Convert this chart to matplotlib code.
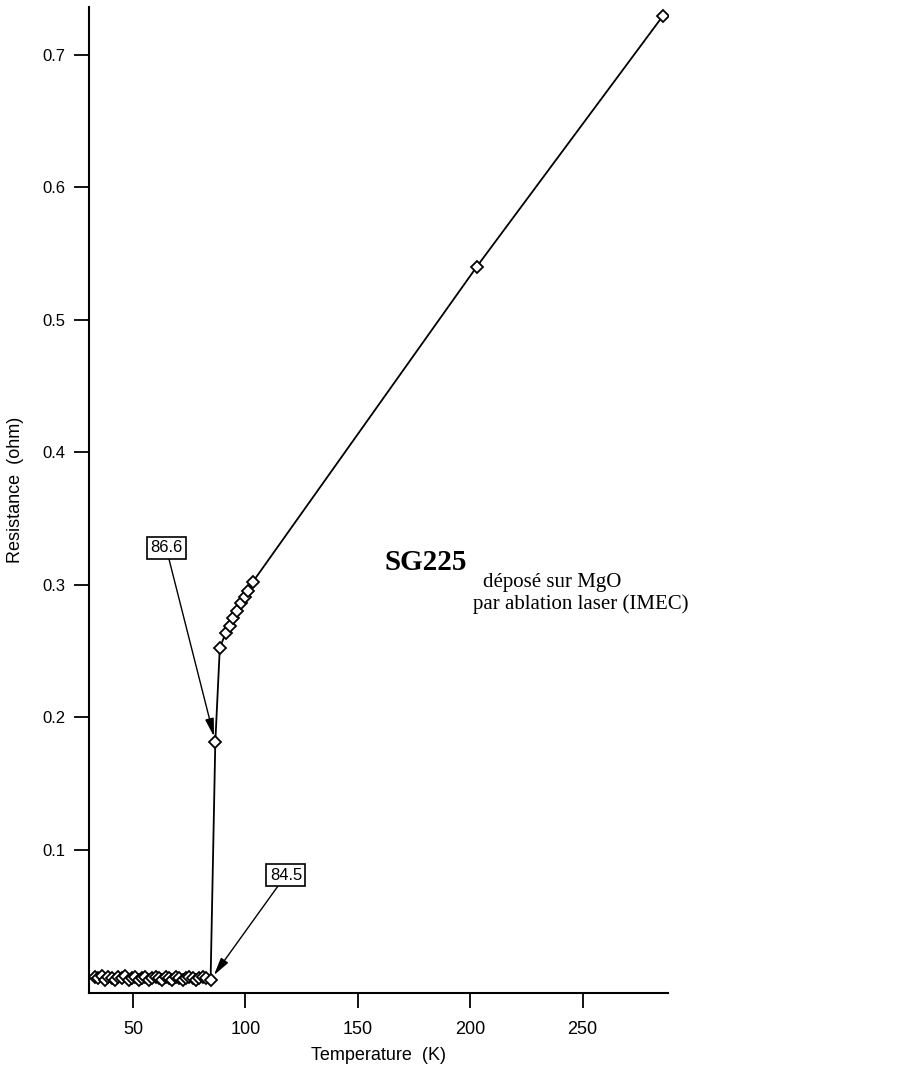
import matplotlib
matplotlib.use("Agg")
import matplotlib.pyplot as plt

# Resistance vs temperature of film SG225
temp_low = [33.0, 34.5, 36.0, 37.5, 39.0, 40.5, 42.0, 43.5, 45.0, 46.5,
            48.0, 49.5, 51.0, 52.5, 54.0, 55.5, 57.0, 58.5, 60.0, 61.5,
            63.0, 64.5, 66.0, 67.5, 69.0, 70.5, 72.0, 73.5, 75.0, 76.5,
            78.0, 79.5, 81.0, 82.5, 84.5]
res_low = [0.004, 0.003, 0.005, 0.002, 0.004, 0.003, 0.002, 0.004, 0.003, 0.005,
           0.002, 0.003, 0.004, 0.002, 0.003, 0.004, 0.002, 0.003, 0.004, 0.003,
           0.002, 0.004, 0.003, 0.002, 0.004, 0.003, 0.002, 0.003, 0.004, 0.003,
           0.002, 0.003, 0.004, 0.003, 0.002]
temp_high = [86.6, 88.6, 91.3, 93.1, 94.6, 96.2, 98.0, 99.6, 101.3, 103.2, 202.9, 285.6]
res_high = [0.1815, 0.2525, 0.264, 0.269, 0.275, 0.280, 0.286, 0.291, 0.295, 0.302, 0.540, 0.729]

temperature = temp_low + temp_high
resistance = res_low + res_high

x_ticks = [50, 100, 150, 200, 250]
y_ticks = [0.1, 0.2, 0.3, 0.4, 0.5, 0.6, 0.7]

tc_onset = 86.6
tc_zero = 84.5

W, H = 920, 1068
fig = plt.figure(figsize=(W / 100, H / 100), dpi=100)
ax = fig.add_axes([89 / W, 1 - 993 / H, (668 - 89) / W, (993 - 7) / H])

ax.plot(temperature, resistance, color="black", lw=1.3, marker="D",
        markersize=6.5, markerfacecolor="white", markeredgecolor="black",
        markeredgewidth=1.3)

ax.set_xlim(30.4, 288)
ax.set_ylim(-0.008, 0.736)

for side in ("top", "right"):
    ax.spines[side].set_visible(False)
for side in ("left", "bottom"):
    ax.spines[side].set_linewidth(1.5)

sans = ["Liberation Sans", "DejaVu Sans"]
ax.set_xticks(x_ticks)
ax.set_xticklabels([str(t) for t in x_ticks], family=sans, size=13)
ax.set_yticks(y_ticks)
ax.set_yticklabels([f"{t:.1f}" for t in y_ticks], family=sans, size=12)
ax.tick_params(direction="out", length=11, width=1.3)
ax.tick_params(axis="x", pad=9)
ax.tick_params(axis="y", pad=6)

ax.set_xlabel("Temperature  (K)", family=sans, size=13, labelpad=7)
ax.set_ylabel("Resistance  (ohm)", family=sans, size=13)
ax.yaxis.set_label_coords(-0.112, 0.51)

def r_at(t):
    return resistance[temperature.index(t)]

box = dict(boxstyle="square,pad=0.2", fc="white", ec="black", lw=1.2)
arrow = dict(arrowstyle="-|>,head_length=0.9,head_width=0.22", color="black",
             lw=1.0, shrinkA=0, shrinkB=4)

ax.annotate(f"{tc_onset}", xy=(tc_onset, r_at(tc_onset)), xytext=(64.7, 0.328),
            ha="center", va="center", fontsize=12, family=sans,
            bbox=box, arrowprops=arrow)
ax.annotate(f"{tc_zero}", xy=(tc_zero, r_at(tc_zero)), xytext=(118, 0.081),
            ha="center", va="center", fontsize=12, family=sans,
            bbox=box, arrowprops=arrow)

serif = ["Liberation Serif", "DejaVu Serif"]
fig.text(385 / W, 1 - 570 / H, "SG225", family=serif, fontweight="bold",
         fontsize=21, ha="left", va="baseline")
fig.text(483 / W, 1 - 587 / H, "déposé sur MgO", family=serif,
         fontsize=15, ha="left", va="baseline")
fig.text(473 / W, 1 - 609 / H, "par ablation laser (IMEC)", family=serif,
         fontsize=15, ha="left", va="baseline")

fig.savefig("out.png", dpi=100)
